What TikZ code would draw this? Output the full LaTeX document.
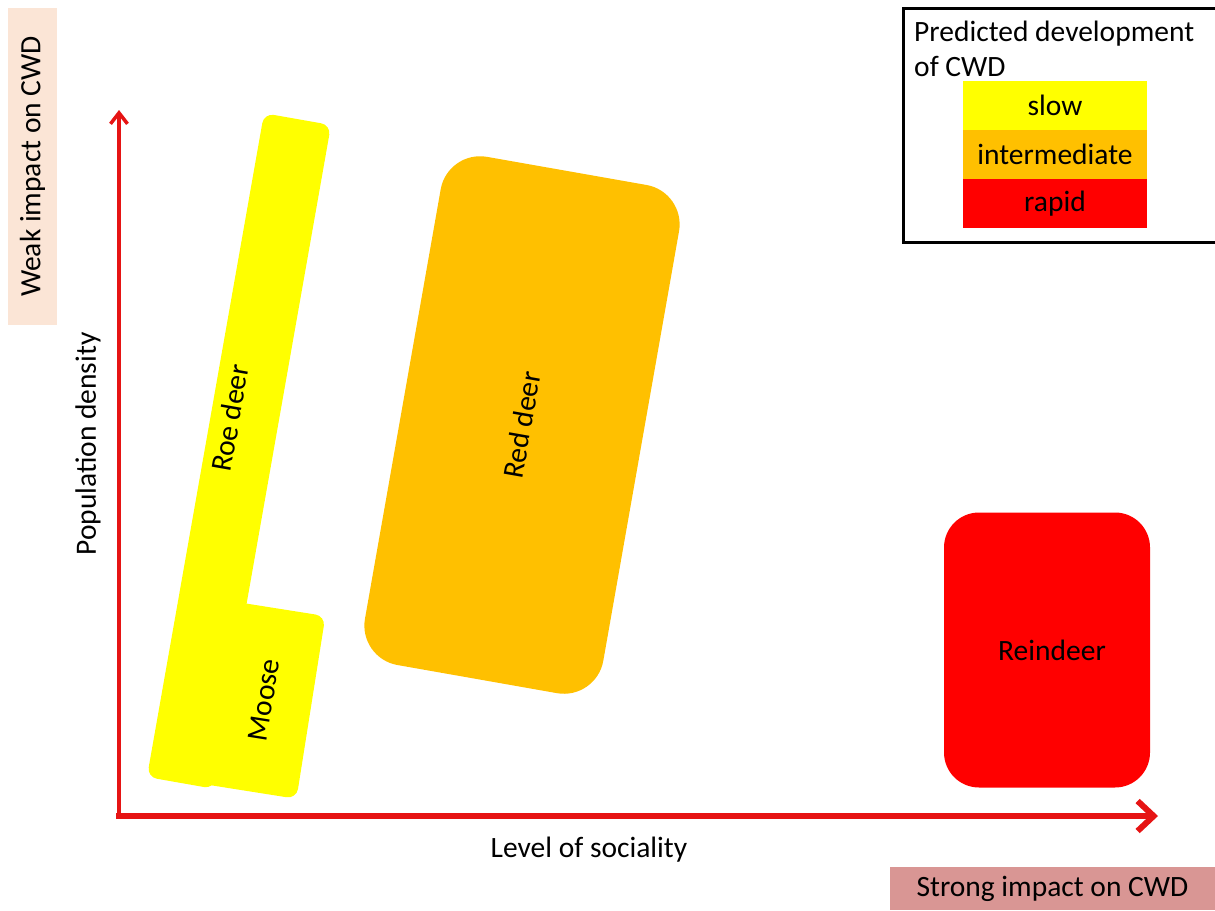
\documentclass[tikz,border=0pt]{standalone}
\usepackage{fontspec}
\setmainfont{Carlito}
\usetikzlibrary{arrows.meta,positioning}

\definecolor{slowyellow}{HTML}{FFFF00}
\definecolor{midorange}{HTML}{FFC000}
\definecolor{rapidred}{HTML}{FF0000}
\definecolor{weakpeach}{HTML}{FBE5D6}
\definecolor{strongrose}{HTML}{D99694}
\definecolor{axisred}{HTML}{E61414}

\begin{document}
\begin{tikzpicture}[x=1pt,y=-1pt,
        every node/.style={font=\fontsize{29.5}{35}\selectfont,inner sep=0pt},
        species/.style={rounded corners=#1},
        axis/.style={draw=axisred,line width=#1},
        legkey/.style={minimum width=184pt,minimum height=49pt}]
        \useasboundingbox (0,0) rectangle (1215,910);
        % impact tags
        \node[fill=weakpeach,rotate=90,minimum width=317pt,minimum height=49pt] (weak) at (32.5,166.5) {Weak impact on CWD};
        \node[fill=strongrose,minimum width=325pt,minimum height=43pt] (strong) at (1052.5,888.5) {Strong impact on CWD};
        % species
        \node[species=10pt,fill=slowyellow,rotate=80,minimum width=674pt,minimum height=68pt] (roe) at (239,451) {};
        \node[species=10pt,fill=slowyellow,rotate=81,minimum width=185pt,minimum height=95pt] (moose) at (264,700) {Moose};
        \node[rotate=80] (roelabel) at (230,418) {Roe deer};
        \node[species=40pt,fill=midorange,rotate=80,minimum width=516pt,minimum height=242pt] (reddeer) at (522,425) {Red deer};
        \node[species=35pt,fill=rapidred,minimum width=206pt,minimum height=275pt] (reindeer) at (1047,650) {};
        \node (reinlabel) at (1052,650) {Reindeer};
        % axes
        \coordinate (origin) at (119,816);
        \coordinate (ytip) at (119,110);
        \coordinate (xtip) at (1158,816);
        \draw[axis=3.5pt,-{Straight Barb[length=11pt,width=17pt]}] (origin) -- (ytip);
        \draw[axis=6pt,-{Straight Barb[length=16pt,width=30pt]}] (116,816) -- (xtip);
        \node[rotate=90] (ydesc) at (88,444) {Population density};
        \node (xdesc) at (589,850) {Level of sociality};
        % legend
        \draw[line width=3pt] (1215,8) -| (903,242) -- (1215,242);
        \node[anchor=north west,align=left] (legtitle) at (914,21) {Predicted development\\of CWD};
        \foreach \name/\col/\ypos in {slow/slowyellow/105.5,intermediate/midorange/154.5,rapid/rapidred/203.5}
                \node[legkey,fill=\col] (\name) at (1055,\ypos) {\name};
\end{tikzpicture}
\end{document}
